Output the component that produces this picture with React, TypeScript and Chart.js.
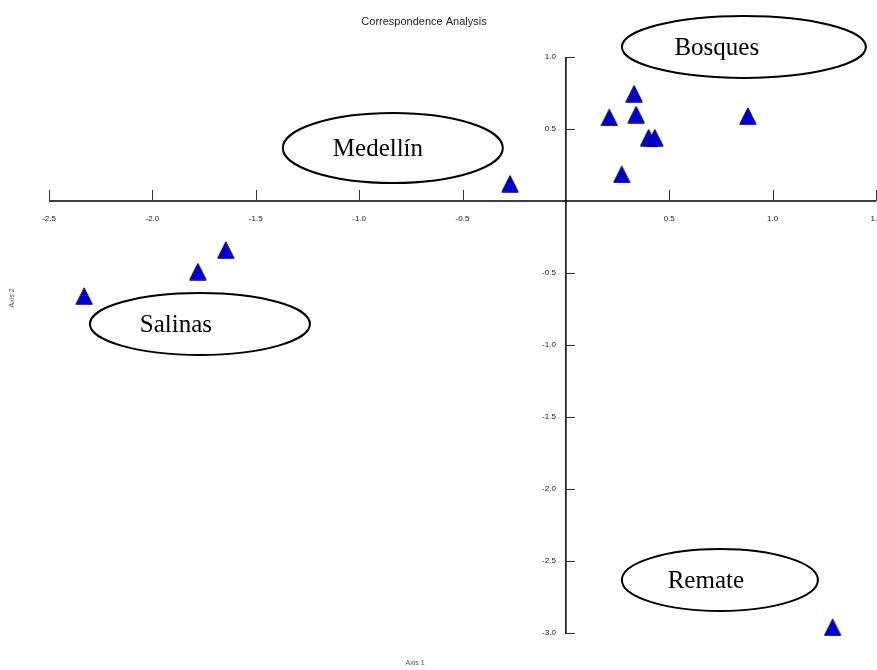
import React, { useEffect, useRef } from "react";
import { Chart, registerables } from "chart.js";

Chart.register(...registerables);

// Data
const axis1Values = [-2.33, -1.78, -1.645, -0.27, 0.21, 0.33, 0.34, 0.4, 0.43, 0.27, 0.88, 1.29];
const axis2Values = [-0.66, -0.49, -0.34, 0.12, 0.58, 0.745, 0.6, 0.44, 0.44, 0.185, 0.59, -2.96];

const xTickValues = [-2.5, -2.0, -1.5, -1.0, -0.5, 0.5, 1.0, 1.5];
const xTickLabels = ["-2.5", "-2.0", "-1.5", "-1.0", "-0.5", "0.5", "1.0", "1.5"];
const yTickValues = [1.0, 0.5, -0.5, -1.0, -1.5, -2.0, -2.5, -3.0];
const yTickLabels = ["1.0", "0.5", "-0.5", "-1.0", "-1.5", "-2.0", "-2.5", "-3.0"];

const groupNames = ["Bosques", "Medellín", "Salinas", "Remate"];

const TITLE = "Correspondence Analysis";
const X_TITLE = "Axis 1";
const Y_TITLE = "Axis 2";

// annotation geometry in data units (centre x, centre y, radius x, radius y, text centre x)
const groupEllipses = [
  { cx: 0.861, cy: 1.07, rx: 0.59, ry: 0.215, tx: 0.73 },
  { cx: -0.837, cy: 0.368, rx: 0.532, ry: 0.243, tx: -0.909 },
  { cx: -1.77, cy: -0.854, rx: 0.532, ry: 0.215, tx: -1.886 },
  { cx: 0.745, cy: -2.632, rx: 0.474, ry: 0.215, tx: 0.677 },
];

function makeTriangle(): HTMLCanvasElement {
  const c = document.createElement("canvas");
  c.width = 18;
  c.height = 18;
  const g = c.getContext("2d")!;
  g.beginPath();
  g.moveTo(9, 0.8);
  g.lineTo(17.2, 17.2);
  g.lineTo(0.8, 17.2);
  g.closePath();
  g.fillStyle = "#0000d6";
  g.fill();
  g.strokeStyle = "#00005c";
  g.lineWidth = 1;
  g.stroke();
  return c;
}

const overlayPlugin = {
  id: "caOverlay",
  beforeDatasetsDraw(chart: any) {
    const ctx: CanvasRenderingContext2D = chart.ctx;
    const xs = chart.scales.x;
    const ys = chart.scales.y;
    const x0 = xs.getPixelForValue(0);
    const y0 = ys.getPixelForValue(0);
    ctx.save();

    // axis lines
    ctx.strokeStyle = "#000";
    ctx.lineWidth = 1.5;
    ctx.beginPath();
    ctx.moveTo(xs.getPixelForValue(-2.5), y0);
    ctx.lineTo(xs.getPixelForValue(1.5), y0);
    ctx.moveTo(x0, ys.getPixelForValue(1.0));
    ctx.lineTo(x0, ys.getPixelForValue(-3.0) + 1);
    ctx.stroke();

    // tick marks
    ctx.strokeStyle = "#333";
    ctx.lineWidth = 1;
    ctx.beginPath();
    xTickValues.forEach((v) => {
      const px = Math.round(xs.getPixelForValue(v)) + 0.5;
      ctx.moveTo(px, y0 - 11);
      ctx.lineTo(px, y0);
    });
    yTickValues.forEach((v) => {
      const py = Math.round(ys.getPixelForValue(v)) + 0.5;
      ctx.moveTo(x0, py);
      ctx.lineTo(x0 + 9, py);
    });
    ctx.stroke();

    // tick labels
    ctx.fillStyle = "#222";
    ctx.font = "8px 'Liberation Sans', Arial, sans-serif";
    ctx.textAlign = "center";
    ctx.textBaseline = "middle";
    xTickValues.forEach((v, i) => {
      ctx.fillText(xTickLabels[i], xs.getPixelForValue(v), y0 + 18);
    });
    ctx.textAlign = "right";
    yTickValues.forEach((v, i) => {
      ctx.fillText(yTickLabels[i], x0 - 10, ys.getPixelForValue(v));
    });

    // title and axis titles
    ctx.fillStyle = "#222";
    ctx.font = "11px 'Liberation Sans', Arial, sans-serif";
    ctx.textAlign = "center";
    ctx.fillText(TITLE, 424, 22);
    ctx.fillStyle = "#555";
    ctx.font = "7px 'Liberation Sans', Arial, sans-serif";
    ctx.fillText(X_TITLE, 415, 663);
    ctx.save();
    ctx.translate(12, 298);
    ctx.rotate(-Math.PI / 2);
    ctx.fillText(Y_TITLE, 0, 0);
    ctx.restore();

    // group ellipses
    groupEllipses.forEach((e, i) => {
      const cx = xs.getPixelForValue(e.cx);
      const cy = ys.getPixelForValue(e.cy);
      const rx = Math.abs(xs.getPixelForValue(e.cx + e.rx) - cx);
      const ry = Math.abs(ys.getPixelForValue(e.cy + e.ry) - cy);
      ctx.beginPath();
      ctx.ellipse(cx, cy, rx, ry, 0, 0, Math.PI * 2);
      ctx.strokeStyle = "#000";
      ctx.lineWidth = 2;
      ctx.stroke();
      ctx.fillStyle = "#000";
      ctx.font = "25px 'Liberation Serif', 'Times New Roman', serif";
      ctx.textAlign = "center";
      ctx.textBaseline = "alphabetic";
      ctx.fillText(groupNames[i], xs.getPixelForValue(e.tx), cy + 8);
    });

    ctx.restore();
  },
};

export default function App() {
  const canvasRef = useRef<HTMLCanvasElement | null>(null);

  useEffect(() => {
    const canvas = canvasRef.current;
    if (!canvas) return;
    const tri = makeTriangle();
    const points = axis1Values.map((x, i) => ({ x, y: axis2Values[i] }));
    const chart = new Chart(canvas, {
      type: "scatter",
      data: {
        datasets: [
          {
            label: "Sites",
            data: points,
            pointStyle: tri as any,
            pointRadius: 9,
            pointHoverRadius: 9,
            showLine: false,
            clip: false as any,
          },
        ],
      },
      options: {
        animation: false,
        responsive: false,
        maintainAspectRatio: false,
        layout: { autoPadding: false, padding: { left: 49, right: 1, top: 57, bottom: 37 } },
        plugins: {
          legend: { display: false },
          tooltip: { enabled: false },
          title: { display: false },
        },
        scales: {
          x: { type: "linear", min: -2.5, max: 1.5, display: false },
          y: { type: "linear", min: -3.0, max: 1.0, display: false },
        },
      },
      plugins: [overlayPlugin],
    });
    return () => chart.destroy();
  }, []);

  return (
    <div style={{ position: "absolute", left: 0, top: 0, width: 877, height: 670, background: "#fff" }}>
      <canvas ref={canvasRef} width={877} height={670} style={{ display: "block", width: 877, height: 670 }} />
    </div>
  );
}
